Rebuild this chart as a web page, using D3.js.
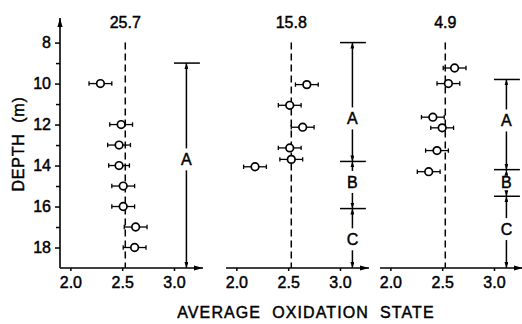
<!DOCTYPE html>
<html lang="en">
  <head>
    <meta charset="UTF-8" />
    <title>Average oxidation state vs depth</title>
    <script src="https://cdn.jsdelivr.net/npm/d3@7"></script>
    <style>
      body {
        margin: 0;
        background: #fff;
      }
      svg {
        display: block;
        font-family: "Liberation Sans", Arial, sans-serif;
      }
      svg text {
        fill: #000;
        stroke: #000;
        stroke-width: 0.45px;
      }
    </style>
  </head>
  <body>
    <svg width="522" height="324"></svg>
    <script>
      // one panel per station temperature
      const panelTitles = ["25.7", "15.8", "4.9"];
      const depths = [
        [10, 12, 13, 14, 15, 16, 17, 18],
        [10.05, 11.06, 12.13, 13.14, 13.7, 14.06],
        [9.24, 10, 11.64, 12.16, 13.27, 14.3],
      ];
      const oxidation = [
        [2.29, 2.49, 2.47, 2.47, 2.51, 2.51, 2.63, 2.62],
        [2.68, 2.515, 2.64, 2.515, 2.53, 2.18],
        [2.62, 2.56, 2.41, 2.5, 2.45, 2.37],
      ];
      const errors = [
        [0.11, 0.11, 0.11, 0.1, 0.11, 0.11, 0.11, 0.11],
        [0.11, 0.11, 0.11, 0.11, 0.11, 0.11],
        [0.11, 0.11, 0.11, 0.11, 0.11, 0.11],
      ];
      // depth zones (boundaries top to bottom) and their labels
      const zoneNames = [["A"], ["A", "B", "C"], ["A", "B", "C"]];
      const zoneBounds = [
        [9.0, 19],
        [8.0, 13.8, 16.1, 19],
        [9.8, 14.2, 15.5, 19],
      ];
      const zoneLabelDepths = [[13.7], [11.7, 14.8, 17.6], [11.8, 14.8, 17.1]];
      const meanState = 2.53;
      const xTicks = [2.0, 2.5, 3.0];
      const yTicks = [8, 10, 12, 14, 16, 18];
      const yMinorTicks = [9, 11, 13, 15, 17];

      const svg = d3.select("svg");
      const panelLeft = [60, 226, 380];

      const x = d3.scaleLinear().domain([1.9, 3.28]).range([0, 143]);
      const y = d3.scaleLinear().domain([6.8, 19]).range([18, 268]);

      const defs = svg.append("defs");
      function arrowMarker(id, len, half) {
        defs
          .append("marker")
          .attr("id", id)
          .attr("markerUnits", "userSpaceOnUse")
          .attr("viewBox", `0 ${-half} ${len} ${2 * half}`)
          .attr("refX", len)
          .attr("refY", 0)
          .attr("markerWidth", len)
          .attr("markerHeight", 2 * half)
          .attr("orient", "auto-start-reverse")
          .append("path")
          .attr("d", `M0,${-half}L${len},0L0,${half}Z`)
          .attr("fill", "#000");
      }
      arrowMarker("axisArrow", 9, 2.6);
      arrowMarker("zoneArrow", 6, 2);

      // left depth axis, only on the first panel
      const yg = svg.append("g").attr("transform", `translate(${panelLeft[0]},0)`);
      yg.append("g")
        .call(d3.axisLeft(y).tickValues(yMinorTicks).tickSize(4).tickFormat(""))
        .call((g) => g.select(".domain").remove());
      yg.append("g")
        .call(d3.axisLeft(y).tickValues(yTicks).tickSize(5).tickPadding(4))
        .call((g) => g.select(".domain").remove())
        .call((g) => g.selectAll("text").attr("font-size", 16));
      yg.selectAll(".tick line").attr("stroke", "#000").attr("stroke-width", 1.5);
      yg.append("line")
        .attr("y1", y(19))
        .attr("y2", y(6.8))
        .attr("stroke", "#000")
        .attr("stroke-width", 1.6)
        .attr("marker-end", "url(#axisArrow)");

      svg
        .append("text")
        .attr("transform", "translate(24,144) rotate(-90)")
        .attr("text-anchor", "middle")
        .attr("font-size", 16)
        .attr("letter-spacing", 0.8)
        .text("DEPTH\u00a0\u00a0(m)");

      panelTitles.forEach((title, p) => {
        const g = svg.append("g").attr("transform", `translate(${panelLeft[p]},0)`);

        // bottom axis with arrow
        const xg = g.append("g").attr("transform", `translate(0,${y(19)})`);
        xg.call(
          d3
            .axisBottom(x)
            .tickValues(xTicks)
            .tickFormat(d3.format(".1f"))
            .tickSize(3)
            .tickPadding(6)
        )
          .call((a) => a.select(".domain").remove())
          .call((a) => a.selectAll("text").attr("font-size", 16))
          .call((a) => a.selectAll(".tick line").attr("stroke", "#000").attr("stroke-width", 1.5));
        xg.append("line")
          .attr("x1", x(1.9))
          .attr("x2", x(3.28))
          .attr("stroke", "#000")
          .attr("stroke-width", 1.6)
          .attr("marker-end", "url(#axisArrow)");

        g.append("text")
          .attr("x", x(meanState))
          .attr("y", 28)
          .attr("text-anchor", "middle")
          .attr("font-size", 16)
          .text(title);

        // dashed mean line
        g.append("line")
          .attr("x1", x(meanState))
          .attr("x2", x(meanState))
          .attr("y1", y(8))
          .attr("y2", y(19))
          .attr("stroke", "#000")
          .attr("stroke-width", 1.5)
          .attr("stroke-dasharray", "7,4");

        // error bars and points
        const pts = depths[p].map((d, i) => ({ d, v: oxidation[p][i], e: errors[p][i] }));
        const eb = g.append("g").attr("stroke", "#000").attr("stroke-width", 1.3);
        pts.forEach((pt) => {
          eb.append("line")
            .attr("x1", x(pt.v - pt.e))
            .attr("x2", x(pt.v + pt.e))
            .attr("y1", y(pt.d))
            .attr("y2", y(pt.d));
          [pt.v - pt.e, pt.v + pt.e].forEach((c) =>
            eb
              .append("line")
              .attr("x1", x(c))
              .attr("x2", x(c))
              .attr("y1", y(pt.d) - 2.2)
              .attr("y2", y(pt.d) + 2.2)
          );
        });
        g.append("g")
          .selectAll("circle")
          .data(pts)
          .join("circle")
          .attr("cx", (d) => x(d.v))
          .attr("cy", (d) => y(d.d))
          .attr("r", 3.8)
          .attr("fill", "#fff")
          .attr("stroke", "#000")
          .attr("stroke-width", 1.7);

        // zone brackets
        const bx = x(3.12);
        const zg = g.append("g").attr("stroke", "#000").attr("stroke-width", 1.5);
        zoneBounds[p].slice(0, -1).forEach((b) => {
          zg.append("line")
            .attr("x1", x(3.0))
            .attr("x2", x(3.25))
            .attr("y1", y(b))
            .attr("y2", y(b));
        });
        zoneNames[p].forEach((name, i) => {
          const top = y(zoneBounds[p][i]);
          const bot = y(zoneBounds[p][i + 1]);
          const ly = y(zoneLabelDepths[p][i]);
          zg.append("line")
            .attr("x1", bx)
            .attr("x2", bx)
            .attr("y1", ly - 11)
            .attr("y2", top)
            .attr("marker-end", "url(#zoneArrow)");
          zg.append("line")
            .attr("x1", bx)
            .attr("x2", bx)
            .attr("y1", ly + 11)
            .attr("y2", bot)
            .attr("marker-end", "url(#zoneArrow)");
          g.append("text")
            .attr("x", bx)
            .attr("y", ly)
            .attr("dy", "0.36em")
            .attr("text-anchor", "middle")
            .attr("font-size", 16)
            .text(name);
        });
      });

      svg
        .append("text")
        .attr("x", 306)
        .attr("y", 318)
        .attr("text-anchor", "middle")
        .attr("font-size", 16)
        .attr("letter-spacing", 1.1)
        .text("AVERAGE\u00a0\u00a0OXIDATION\u00a0\u00a0STATE");
    </script>
  </body>
</html>
